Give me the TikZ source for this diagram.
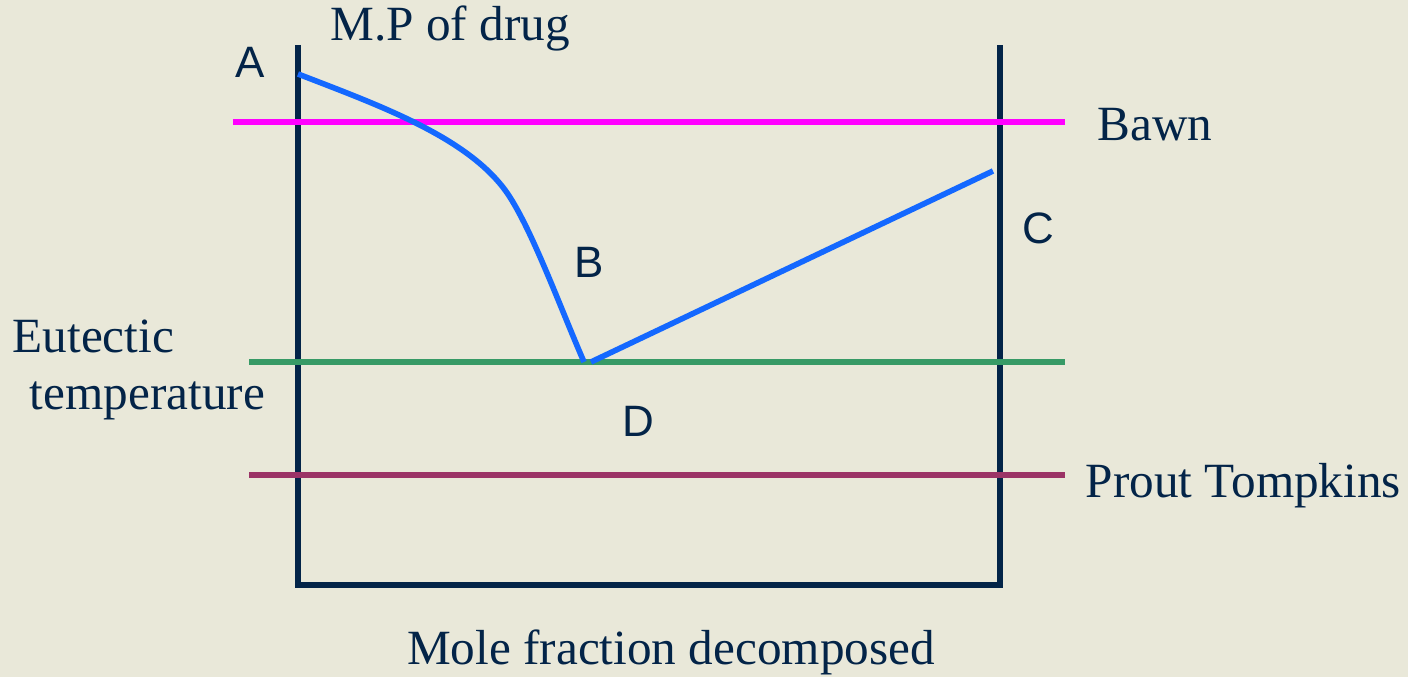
\documentclass[tikz,border=0pt]{standalone}
\usepackage{fontspec}
\setmainfont{Liberation Serif}
\newfontfamily\lettersf{Liberation Sans}
\usetikzlibrary{positioning}
\definecolor{paperc}{HTML}{E9E8D9}
\definecolor{axisc}{HTML}{032448}
\definecolor{bawnc}{HTML}{FF00FF}
\definecolor{eutecticc}{HTML}{379A66}
\definecolor{proutc}{HTML}{9B3366}
\definecolor{curvec}{HTML}{1468FF}
\tikzset{
  axisline/.style={draw=axisc, line width=1.6pt},
  levelline/.style={line width=1.7pt},
  curveline/.style={draw=curvec, line width=1.6pt},
  labeltext/.style={text=axisc, font=\fontsize{14}{17}\selectfont, inner sep=0pt},
  pointtext/.style={text=axisc, font=\lettersf\fontsize{12.5}{15}\selectfont, inner sep=0pt},
}
\begin{document}
\begin{tikzpicture}[x=0.01cm, y=-0.01cm]
  \useasboundingbox[fill=paperc] (0,0) rectangle (1408,677);
  % frame of the plot
  \coordinate (tl) at (298,45);
  \coordinate (bl) at (298,585);
  \coordinate (br) at (1000,585);
  \coordinate (tr) at (1000,45);
  \draw[axisline] (tl) -- (bl) -- (br) -- (tr);
  % level lines
  \coordinate (bawnl) at (233,122);
  \coordinate (bawnr) at (1065,122);
  \coordinate (eutl) at (249,362);
  \coordinate (eutr) at (1065,362);
  \coordinate (proutl) at (249,475);
  \coordinate (proutr) at (1065,475);
  \draw[levelline, draw=bawnc] (bawnl) -- (bawnr);
  \draw[levelline, draw=eutecticc] (eutl) -- (eutr);
  \draw[levelline, draw=proutc] (proutl) -- (proutr);
  % melting curve
  \coordinate (mp) at (298,74);
  \coordinate (knee) at (505,190);
  \coordinate (dipl) at (584,362);
  \coordinate (dipr) at (591,362);
  \coordinate (cend) at (993,171);
  \draw[curveline] (mp) .. controls (378,105) and (465,136) .. (knee)
    .. controls (530,224) and (560,307) .. (dipl);
  \draw[curveline] (dipr) -- (cend);
  % labels
  \node[labeltext] (mplab) at (450,28) {M.P of drug};
  \node[labeltext, anchor=west] (bawn) at (1097,125) {Bawn};
  \node[labeltext, anchor=west] (prout) at (1085,486) {Prout Tompkins};
  \node[labeltext, align=left, anchor=west] (eut) at (12,370) {Eutectic\\[-1pt]\hspace*{0.35em}temperature};
  \node[labeltext] (xlab) at (671,652) {Mole fraction decomposed};
  \node[pointtext] (ptA) at (250,62) {A};
  \node[pointtext] (ptB) at (589,262) {B};
  \node[pointtext] (ptC) at (1038,228) {C};
  \node[pointtext] (ptD) at (638,421) {D};
\end{tikzpicture}
\end{document}
